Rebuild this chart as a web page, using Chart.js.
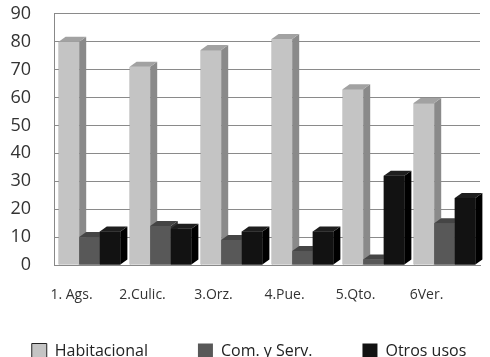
<!DOCTYPE html>
<html>
<head>
<meta charset="utf-8">
<script src="https://cdn.jsdelivr.net/npm/chart.js@4/dist/chart.umd.min.js"></script>
<style>
  html, body { margin: 0; padding: 0; background: #fff; }
  #wrap { width: 490px; height: 357px; }
</style>
</head>
<body>
<div id="wrap"><canvas id="chart" width="490" height="357"></canvas></div>
<script>
const categories = ["1. Ags.", "2.Culic.", "3.Orz.", "4.Pue.", "5.Qto.", "6Ver."];
const habitacional = [80, 71, 77, 81, 63, 58];
const comServ = [10, 14, 9, 5, 2, 15];
const otrosUsos = [12, 13, 12, 12, 32, 24];
const seriesNames = ["Habitacional", "Com. y Serv.", "Otros usos"];
const yTicks = [0, 10, 20, 30, 40, 50, 60, 70, 80, 90];

// front, side and top faces for the 3d look, taken from the bar elements
const shades = [
  { front: "#c4c4c4", side: "#8a8a8a", top: "#a2a2a2" },
  { front: "#585858", side: "#333333", top: "#454545" },
  { front: "#121212", side: "#000000", top: "#1e1e1e" },
];
const depth = 7, rise = 5;

const bars3d = {
  id: "bars3d",
  afterLayout(chart) {
    // push the legend row down to the bottom edge and give it room to stay on one line
    const lg = chart.legend;
    lg.top = 293; lg.bottom = 357;
    lg.left = -32; lg.right = 530; lg.width = 562;
  },
  afterDatasetsDraw(chart) {
    const ctx = chart.ctx;
    const metas = chart.data.datasets.map((d, i) => chart.getDatasetMeta(i));
    ctx.save();
    categories.forEach((c, j) => {
      metas.forEach((meta, i) => {
        const bar = meta.data[j];
        const shade = shades[i];
        const { x, y, base, width } = bar.getProps(["x", "y", "base", "width"], true);
        const l = x - width / 2, r = x + width / 2;
        ctx.fillStyle = shade.front;
        ctx.fillRect(l, y, width, base - y);
        ctx.fillStyle = shade.side;
        ctx.beginPath();
        ctx.moveTo(r, y);
        ctx.lineTo(r + depth, y - rise);
        ctx.lineTo(r + depth, base - rise);
        ctx.lineTo(r, base);
        ctx.closePath();
        ctx.fill();
        ctx.fillStyle = shade.top;
        ctx.beginPath();
        ctx.moveTo(l, y);
        ctx.lineTo(l + depth, y - rise);
        ctx.lineTo(r + depth, y - rise);
        ctx.lineTo(r, y);
        ctx.closePath();
        ctx.fill();
      });
    });
    ctx.restore();
  },
};

const legendSpace = {
  id: "legendSpace",
  beforeInit(chart) {
    const fit = chart.legend.fit;
    chart.legend.fit = function () {
      const mw = this.maxWidth;
      this.maxWidth = 2000;
      fit.call(this);
      this.maxWidth = mw;
      this.width = mw;
      this.height = 52;
    };
  },
};

new Chart(document.getElementById("chart"), {
  type: "bar",
  data: {
    labels: categories,
    datasets: [
      { label: seriesNames[0], data: habitacional, backgroundColor: shades[0].front, borderColor: "#222", borderWidth: 1 },
      { label: seriesNames[1], data: comServ, backgroundColor: shades[1].front, borderColor: shades[1].front, borderWidth: 0 },
      { label: seriesNames[2], data: otrosUsos, backgroundColor: shades[2].front, borderColor: shades[2].front, borderWidth: 0 },
    ],
  },
  options: {
    responsive: false,
    animation: false,
    layout: { padding: { top: 1, right: 10, left: 0, bottom: 0 } },
    datasets: { bar: { categoryPercentage: 0.87, barPercentage: 1, borderWidth: 0 } },
    scales: {
      x: {
        grid: { display: false },
        border: { display: true, color: "#888" },
        ticks: { color: "#333", font: { family: "Open Sans", size: 14 }, padding: 14, labelOffset: -18, maxRotation: 0, autoSkip: false },
        afterFit(scale) { scale.height = 40; },
      },
      y: {
        min: 0,
        max: 90,
        afterBuildTicks(scale) { scale.ticks = yTicks.map((v) => ({ value: v })); },
        grid: { color: "#8a8a8a", lineWidth: 1, drawTicks: true, tickLength: 20, tickColor: "rgba(0,0,0,0)" },
        border: { display: true, color: "#888" },
        ticks: { color: "#333", font: { family: "Open Sans", size: 18 }, padding: 3, autoSkip: false },
        afterFit(scale) { scale.width = 54; },
      },
    },
    plugins: {
      legend: {
        position: "bottom",
        labels: {
          color: "#222",
          font: { family: "Open Sans", size: 16 },
          boxWidth: 15,
          boxHeight: 15,
          padding: 50,
        },
      },
      tooltip: { enabled: false },
    },
  },
  plugins: [bars3d, legendSpace],
});
</script>
</body>
</html>
